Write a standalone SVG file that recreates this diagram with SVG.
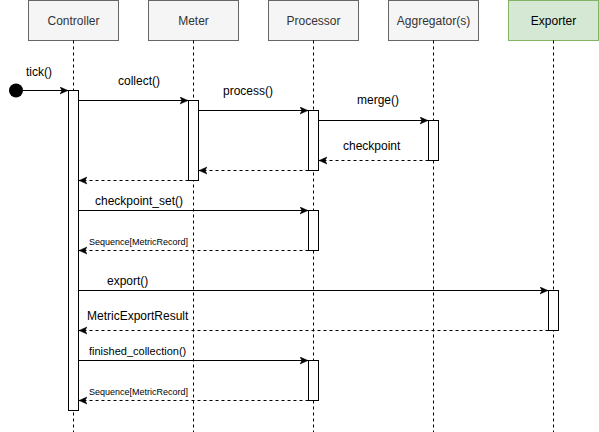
<svg xmlns="http://www.w3.org/2000/svg" width="599" height="432" viewBox="0 0 599 432">
<style>
.hdr{fill:#f5f5f5;stroke:#666666;stroke-width:1}
.exp{fill:#d5e8d4;stroke:#82b366;stroke-width:1}
.ht{font-family:"Liberation Sans",Arial,sans-serif;font-size:12px;fill:#333333;text-anchor:middle}
.life{stroke:#000;stroke-width:1;stroke-dasharray:3 3;fill:none}
.act{fill:#fff;stroke:#000;stroke-width:1}
.msg{stroke:#000;stroke-width:1;fill:none;marker-end:url(#ah)}
.ret{stroke:#000;stroke-width:1;fill:none;stroke-dasharray:3 3;marker-end:url(#ah)}
.lb{font-family:"Liberation Sans",Arial,sans-serif;font-size:12px;fill:#000}
.sm{font-size:9px}
.md{font-size:11px}
</style>
<defs>
<marker id="ah" markerUnits="userSpaceOnUse" markerWidth="10" markerHeight="10" refX="8" refY="4" orient="auto">
<path d="M0,0.5 L8,4 L0,7.5 L2,4 Z" fill="#000" stroke="#000" stroke-width="0.5"/>
</marker>
</defs>
<g id="controller">
<rect class="hdr" x="28.5" y="0.5" width="90" height="40"/>
<text class="ht" x="73.5" y="24.5">Controller</text>
<line class="life" x1="73.5" y1="40.5" x2="73.5" y2="432"/>
<rect class="act" x="68.5" y="90.5" width="10" height="320"/>
</g>
<g id="meter">
<rect class="hdr" x="148.5" y="0.5" width="90" height="40"/>
<text class="ht" x="193.5" y="24.5">Meter</text>
<line class="life" x1="193.5" y1="40.5" x2="193.5" y2="432"/>
<rect class="act" x="188.5" y="100.5" width="10" height="80"/>
</g>
<g id="processor">
<rect class="hdr" x="268.5" y="0.5" width="90" height="40"/>
<text class="ht" x="313.5" y="24.5">Processor</text>
<line class="life" x1="313.5" y1="40.5" x2="313.5" y2="432"/>
<rect class="act" x="308.5" y="110.5" width="10" height="60"/>
<rect class="act" x="308.5" y="210.5" width="10" height="40"/>
<rect class="act" x="308.5" y="360.5" width="10" height="40"/>
</g>
<g id="aggregator">
<rect class="hdr" x="388.5" y="0.5" width="90" height="40"/>
<text class="ht" x="433.5" y="24.5">Aggregator(s)</text>
<line class="life" x1="433.5" y1="40.5" x2="433.5" y2="432"/>
<rect class="act" x="428.5" y="120.5" width="10" height="40"/>
</g>
<g id="exporter">
<rect class="exp" x="508.5" y="0.5" width="90" height="40"/>
<text class="ht" x="553.5" y="24.5" style="fill:#000">Exporter</text>
<line class="life" x1="553.5" y1="40.5" x2="553.5" y2="432"/>
<rect class="act" x="548.5" y="290.5" width="10" height="40"/>
</g>
<g id="start">
<circle cx="16" cy="90.5" r="7" fill="#000"/>
</g>
<g id="connectors">
<line class="msg" x1="23" y1="90.5" x2="68" y2="90.5"/>
<text class="lb" x="26" y="76">tick()</text>
<line class="msg" x1="78.5" y1="100.5" x2="188" y2="100.5"/>
<text class="lb" x="118" y="85">collect()</text>
<line class="msg" x1="198.5" y1="110.5" x2="308" y2="110.5"/>
<text class="lb" x="223" y="95">process()</text>
<line class="msg" x1="318.5" y1="120.5" x2="428" y2="120.5"/>
<text class="lb" x="357" y="104">merge()</text>
<line class="ret" x1="428.5" y1="160.5" x2="319" y2="160.5"/>
<text class="lb" x="343" y="150">checkpoint</text>
<line class="ret" x1="308.5" y1="170.5" x2="199" y2="170.5"/>
<line class="ret" x1="188.5" y1="180.5" x2="79" y2="180.5"/>
<line class="msg" x1="78.5" y1="210.5" x2="308" y2="210.5"/>
<text class="lb" x="95" y="205">checkpoint_set()</text>
<line class="ret" x1="308.5" y1="250.5" x2="79" y2="250.5"/>
<text class="lb sm" x="89" y="245">Sequence[MetricRecord]</text>
<line class="msg" x1="78.5" y1="290.5" x2="548" y2="290.5"/>
<text class="lb" x="107" y="285">export()</text>
<line class="ret" x1="548.5" y1="330.5" x2="79" y2="330.5"/>
<text class="lb" x="87" y="320">MetricExportResult</text>
<line class="msg" x1="78.5" y1="360.5" x2="308" y2="360.5"/>
<text class="lb md" x="89" y="355">finished_collection()</text>
<line class="ret" x1="308.5" y1="400.5" x2="79" y2="400.5"/>
<text class="lb sm" x="89" y="395">Sequence[MetricRecord]</text>
</g>
</svg>
